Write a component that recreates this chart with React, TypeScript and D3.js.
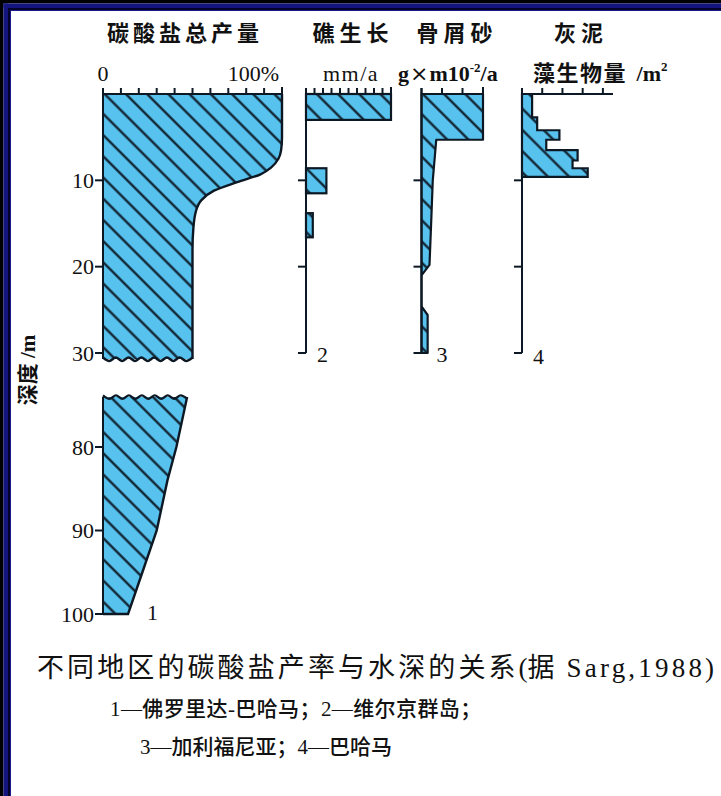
import { useEffect, useRef } from "react";
import * as d3 from "d3";

// panel 1: total carbonate production (%)
const totalDepthUpper = [0, 5, 6.5, 7.5, 8.5, 9.3, 10.2, 11.2, 12.3, 13.5, 15.5, 18, 30.7];
const totalValueUpper = [100, 100, 99.5, 98, 94, 88, 75, 62, 55, 52, 50.5, 50, 50];
const totalDepthLower = [74, 80, 84, 90, 95, 100];
const totalValueLower = [47, 41, 36, 30, 22, 14];

// panel 2: reef growth (mm/a)
const reefTop = [0, 8.6, 13.8];
const reefBottom = [3, 11.5, 16.6];
const reefRate = [10, 2.4, 0.8];

// panel 3: skeletal sand
const sandDepth = [0, 5.3, 5.3, 10, 15, 19.8, 21, 24.6, 25.6, 30];
const sandRate = [3, 3, 0.72, 0.55, 0.47, 0.39, 0, 0, 0.3, 0.3];

// panel 4: lime mud algal biomass
const mudTop = [0, 2.7, 4.2, 5.3, 6.5, 7.7, 8.6];
const mudBottom = [2.7, 4.2, 5.3, 6.5, 7.7, 8.6, 9.6];
const mudMass = [0.5, 0.75, 1.85, 1.2, 2.75, 2.5, 3.25];

const depthTicksUpper = [10, 20, 30];
const depthTicksLower = [80, 90, 100];
const pctTicks = [0, 10, 20, 30, 40, 50, 60, 70, 80, 90, 100];
const reefTicks = [0, 1, 2, 3, 4, 5, 6, 7, 8, 9, 10];
const sandTicks = [0, 1, 2, 3];
const mudTicks = [0, 1, 2, 3, 4];

const FILL = "#58c2ee";
const INK = "#0c1824";
const SERIF = "'Liberation Serif', 'Noto Sans CJK SC', serif";
const CJK = "'Noto Sans CJK SC', sans-serif";

type Pt = { depth: number; value: number };

export default function App() {
  const svgRef = useRef<SVGSVGElement>(null);

  useEffect(() => {
    if (!svgRef.current) return;
    const svg = d3.select(svgRef.current);
    svg.selectAll("*").remove();

    svg.append("rect").attr("width", 721).attr("height", 796).attr("fill", "#fff");

    // frame on top and left edge
    const bands: [number, number, string][] = [
      [0, 3.5, "#000"],
      [3.5, 4.5, "#15157f"],
      [8, 2, "#04042a"],
      [10, 1, "#1b1b8c"],
    ];
    bands.forEach(([o, w, c]) => {
      svg.append("rect").attr("x", o).attr("y", o).attr("width", 721 - o).attr("height", w).attr("fill", c);
      svg.append("rect").attr("x", o).attr("y", o).attr("width", w).attr("height", 796 - o).attr("fill", c);
    });

    // hatch pattern
    const pat = svg
      .append("defs")
      .append("pattern")
      .attr("id", "hatch")
      .attr("patternUnits", "userSpaceOnUse")
      .attr("width", 15)
      .attr("height", 15)
      .attr("patternTransform", "rotate(45)");
    pat.append("rect").attr("width", 15).attr("height", 15).attr("fill", FILL);
    pat.append("line").attr("x1", 0).attr("x2", 15).attr("y1", 7.5).attr("y2", 7.5)
      .attr("stroke", INK).attr("stroke-width", 2.2);

    // scales
    const yUp = d3.scaleLinear().domain([0, 30]).range([94, 353]);
    const yLow = d3.scaleLinear().domain([80, 100]).range([447, 614]);
    const x1 = d3.scaleLinear().domain([0, 100]).range([103, 282]);
    const x2 = d3.scaleLinear().domain([0, 10]).range([306, 391]);
    const x3 = d3.scaleLinear().domain([0, 3]).range([421.5, 483]);
    const x4 = d3.scaleLinear().domain([0, 4.5]).range([522, 613]);

    const upper: Pt[] = totalDepthUpper.map((d, i) => ({ depth: d, value: totalValueUpper[i] }));
    const lower: Pt[] = totalDepthLower.map((d, i) => ({ depth: d, value: totalValueLower[i] }));
    const sand: Pt[] = sandDepth.map((d, i) => ({ depth: d, value: sandRate[i] }));
    const mud: Pt[] = [];
    mudTop.forEach((t, i) => {
      mud.push({ depth: t, value: mudMass[i] });
      mud.push({ depth: mudBottom[i], value: mudMass[i] });
    });

    const wave = (xa: number, xb: number, y: number) => {
      const n = Math.max(2, Math.round((xb - xa) / 6.5));
      const pts = d3.range(n + 1).map((i) => [xa + ((xb - xa) * i) / n, y + (i % 2 ? 2 : -1.5)] as [number, number]);
      return d3.line().curve(d3.curveCardinal)(pts);
    };

    const g = svg.append("g");

    // ---- panel 1 upper
    const areaUp = d3.area<Pt>().y((d) => yUp(d.depth)).x0(x1(0)).x1((d) => x1(d.value)).curve(d3.curveMonotoneY);
    const lineUp = d3.line<Pt>().y((d) => yUp(d.depth)).x((d) => x1(d.value)).curve(d3.curveMonotoneY);
    g.append("path").datum(upper).attr("d", areaUp).attr("fill", "url(#hatch)");
    g.append("path").datum(upper).attr("d", lineUp).attr("fill", "none").attr("stroke", INK).attr("stroke-width", 2.4);
    g.append("path")
      .attr("d", wave(x1(0), x1(upper[upper.length - 1].value), yUp(30.7)))
      .attr("fill", "none").attr("stroke", INK).attr("stroke-width", 2.4);

    // ---- panel 1 lower
    const areaLow = d3.area<Pt>().y((d) => yLow(d.depth)).x0(x1(0)).x1((d) => x1(d.value));
    const lineLow = d3.line<Pt>().y((d) => yLow(d.depth)).x((d) => x1(d.value));
    g.append("path").datum(lower).attr("d", areaLow).attr("fill", "url(#hatch)");
    g.append("path")
      .attr("d", (lineLow(lower) || "") + `L${x1(0)},${yLow(100)}`)
      .attr("fill", "none").attr("stroke", INK).attr("stroke-width", 2.4);
    g.append("path")
      .attr("d", wave(x1(0), x1(lower[0].value), yLow(lower[0].depth)))
      .attr("fill", "none").attr("stroke", INK).attr("stroke-width", 2.4);

    // ---- panel 2 bars
    g.selectAll("rect.reef")
      .data(reefTop)
      .enter()
      .append("rect")
      .attr("class", "reef")
      .attr("x", x2(0))
      .attr("y", (d) => yUp(d))
      .attr("width", (_, i) => x2(reefRate[i]) - x2(0))
      .attr("height", (d, i) => yUp(reefBottom[i]) - yUp(d))
      .attr("fill", "url(#hatch)")
      .attr("stroke", INK)
      .attr("stroke-width", 2.2);

    // ---- panel 3 and 4 profiles
    const areaOf = (x: d3.ScaleLinear<number, number>) =>
      d3.area<Pt>().y((d) => yUp(d.depth)).x0(x(0)).x1((d) => x(d.value));
    g.append("path").datum(sand).attr("d", areaOf(x3))
      .attr("fill", "url(#hatch)").attr("stroke", INK).attr("stroke-width", 2.2).attr("stroke-linejoin", "round");
    g.append("path").datum(mud).attr("d", areaOf(x4))
      .attr("fill", "url(#hatch)").attr("stroke", INK).attr("stroke-width", 2.2);

    // ---- axes
    const ax = svg.append("g").attr("stroke", INK).attr("stroke-width", 2).attr("fill", "none");
    const vline = (x: number, ya: number, yb: number) =>
      ax.append("line").attr("x1", x).attr("x2", x).attr("y1", ya).attr("y2", yb);
    const hline = (xa: number, xb: number, y: number) =>
      ax.append("line").attr("x1", xa).attr("x2", xb).attr("y1", y).attr("y2", y);

    const topAxis = (x: d3.ScaleLinear<number, number>, ticks: number[], end: number) => {
      hline(x(0), x(end), yUp(0));
      ticks.forEach((t) => vline(x(t), yUp(0) - 6, yUp(0)));
    };
    topAxis(x1, pctTicks, 100);
    topAxis(x2, reefTicks, 10);
    topAxis(x3, sandTicks, 3);
    topAxis(x4, mudTicks, 4.5);
    vline(x1(100), yUp(0) - 7, yUp(5));
    vline(x2(10), yUp(0) - 7, yUp(0));
    vline(x3(3), yUp(0) - 7, yUp(0));

    // depth axes
    vline(x1(0), yUp(0) - 6, yUp(30.7));
    vline(x1(0), yLow(74), yLow(100));
    depthTicksUpper.forEach((t) => hline(x1(0) - 8, x1(0), yUp(t)));
    depthTicksLower.forEach((t) => hline(x1(0) - 8, x1(0), yLow(t)));
    [x2, x3, x4].forEach((x) => {
      vline(x(0), yUp(0) - 6, yUp(30));
      depthTicksUpper.forEach((t) => hline(x(0) - 8, x(0), yUp(t)));
    });

    // ---- texts
    const txt = (s: string, x: number, y: number, size: number, anchor = "start", weight = 400, family = SERIF) =>
      svg.append("text")
        .attr("x", x).attr("y", y)
        .attr("font-size", size)
        .attr("font-family", family)
        .attr("font-weight", weight)
        .attr("text-anchor", anchor)
        .attr("fill", "#111")
        .text(s);

    txt("碳酸盐总产量", 185, 41, 22, "middle", 700, CJK).attr("letter-spacing", 4);
    txt("礁生长", 353, 41, 22, "middle", 700, CJK).attr("letter-spacing", 5);
    txt("骨屑砂", 457, 41, 22, "middle", 700, CJK).attr("letter-spacing", 5);
    txt("灰泥", 581, 41, 22, "middle", 700, CJK).attr("letter-spacing", 5);

    txt("0", x1(0), 81, 22, "middle");
    txt("100%", 279, 81, 22, "end");
    txt("mm/a", 351, 81, 22, "middle").attr("letter-spacing", 1.5);
    const gm = txt("", 398, 81, 22, "start", 700);
    gm.append("tspan").text("g");
    gm.append("tspan").attr("font-weight", 400).attr("font-family", "'DejaVu Sans', sans-serif")
      .attr("font-size", 22).attr("dx", 1).text("×");
    gm.append("tspan").attr("dx", 1).text("m10");
    gm.append("tspan").attr("font-size", 13).attr("dy", -9).text("-2");
    gm.append("tspan").attr("dy", 9).text("/a");
    const alg = txt("", 533, 81, 22, "start", 700);
    alg.append("tspan").attr("font-family", CJK).attr("letter-spacing", 1.5).text("藻生物量");
    alg.append("tspan").attr("dx", 4).text(" /m");
    alg.append("tspan").attr("font-size", 13).attr("dy", -10).text("2");

    depthTicksUpper.forEach((t) => txt(String(t), x1(0) - 9, yUp(t) + 7.5, 22, "end"));
    depthTicksLower.forEach((t) => txt(String(t), x1(0) - 9, yLow(t) + 7.5, 22, "end"));

    txt("1", 147, 620, 22);
    txt("2", x2(0) + 11, 362, 22);
    txt("3", x3(0) + 15, 362, 22);
    txt("4", x4(0) + 11, 364, 22);

    txt("深度 /m", 0, 0, 21, "middle", 700)
      .attr("transform", `translate(35,370) rotate(-90)`);

    const cap = txt("", 37, 677, 27, "start", 400);
    cap.append("tspan").attr("font-family", CJK).attr("letter-spacing", 3.1).text("不同地区的碳酸盐产率与水深的关系");
    cap.append("tspan").text("(");
    cap.append("tspan").attr("font-family", CJK).attr("letter-spacing", 2).text("据");
    cap.append("tspan").attr("letter-spacing", 3.2).text(" Sarg,1988)");

    txt("1—佛罗里达-巴哈马；2—维尔京群岛；", 110, 716, 21, "start", 500).attr("letter-spacing", 0.4);
    txt("3—加利福尼亚；4—巴哈马", 140, 754, 21, "start", 500);
  }, []);

  return (
    <div style={{ position: "absolute", left: 0, top: 0 }}>
      <svg ref={svgRef} width={721} height={796} style={{ display: "block" }}></svg>
    </div>
  );
}
